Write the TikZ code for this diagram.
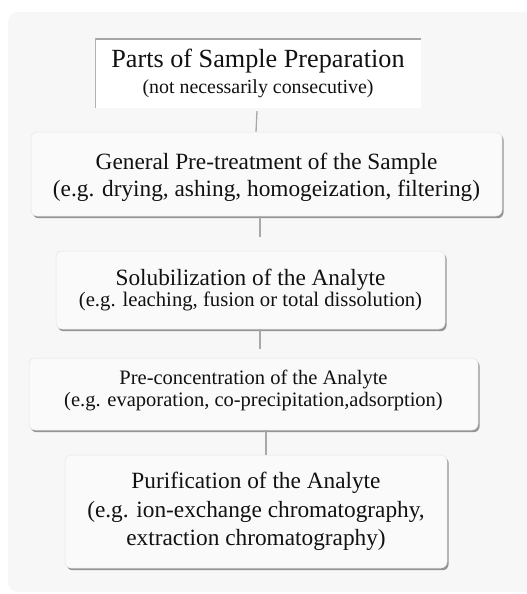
\documentclass[tikz,border=0pt]{standalone}
\usepackage{fontspec}
\setmainfont{Liberation Serif}
\usetikzlibrary{shadows}
\definecolor{bggray}{HTML}{F7F7F7}
\definecolor{boxfill}{HTML}{FAFAFA}
\definecolor{connc}{HTML}{A8A8A8}
\definecolor{txt}{HTML}{111111}
\newcommand\mytopstrut[1]{\rule{0pt}{#1}}
\newcommand\mybotstrut[1]{\rule[-#1]{0pt}{#1}}
\begin{document}
\begin{tikzpicture}[x=1pt,y=1pt,
  stage/.style={draw=black!10, line width=0.5pt, fill=boxfill, rounded corners=6pt,
    align=center, text=txt, inner sep=0pt,
    drop shadow={shadow xshift=1.6pt, shadow yshift=-2.2pt, fill=black, opacity=0.4}},
  conn/.style={draw=connc, line width=1.3pt}]
\useasboundingbox (0,0) rectangle (527,-594);
\fill[bggray, rounded corners=10pt] (8,-12) rectangle (545,-592);
% title box
\node[fill=white, minimum width=326pt, minimum height=70pt, inner sep=0pt, align=center, text=txt,
  font=\fontsize{19.9}{26}\selectfont]
  (top) at (258,-73) {{\fontsize{26.2}{26}\selectfont Parts of Sample Preparation}\\
  (not necessarily consecutive)};
\draw[black!35, line width=2pt] ([yshift=-1pt]top.north west) -- ([yshift=-1pt]top.north east);
\draw[black!30, line width=1pt] ([xshift=0.5pt]top.north west) -- ([xshift=0.5pt]top.south west);
% stages
\node[stage, font=\fontsize{23.3}{27}\selectfont, minimum width=471pt, minimum height=84pt] (b2) at (266.5,-174)
  {\mytopstrut{22.2pt}General Pre-treatment of the Sample\\(e.g. drying, ashing, homogeization, filtering)};
\node[stage, font=\fontsize{20.7}{21}\selectfont, minimum width=389pt, minimum height=78pt] (b3) at (250.5,-290)
  {{\fontsize{23.3}{21}\selectfont Solubilization of the Analyte}\\(e.g. leaching, fusion or total dissolution)};
\node[stage, font=\fontsize{20.5}{22}\selectfont, minimum width=449pt, minimum height=72pt] (b4) at (253.5,-394)
  {Pre-concentration of the Analyte\\(e.g. evaporation, co-precipitation,adsorption)\mybotstrut{11.5pt}};
\node[stage, font=\fontsize{23.3}{28.5}\selectfont, minimum width=382pt, minimum height=113pt] (b5) at (256,-511.5)
  {Purification of the Analyte\\(e.g. ion-exchange chromatography,\\extraction chromatography)};
% connectors
\draw[conn] ([xshift=-1pt,yshift=-3pt]top.south) -- ([xshift=-10.5pt]b2.north);
\draw[conn] ([xshift=-6.5pt]b2.south) -- ([xshift=9.5pt,yshift=14pt]b3.north);
\draw[conn] ([xshift=9.5pt]b3.south) -- ([xshift=6.5pt,yshift=9pt]b4.north);
\draw[conn] ([xshift=12.5pt]b4.south) -- ([xshift=10pt]b5.north);
\end{tikzpicture}
\end{document}
